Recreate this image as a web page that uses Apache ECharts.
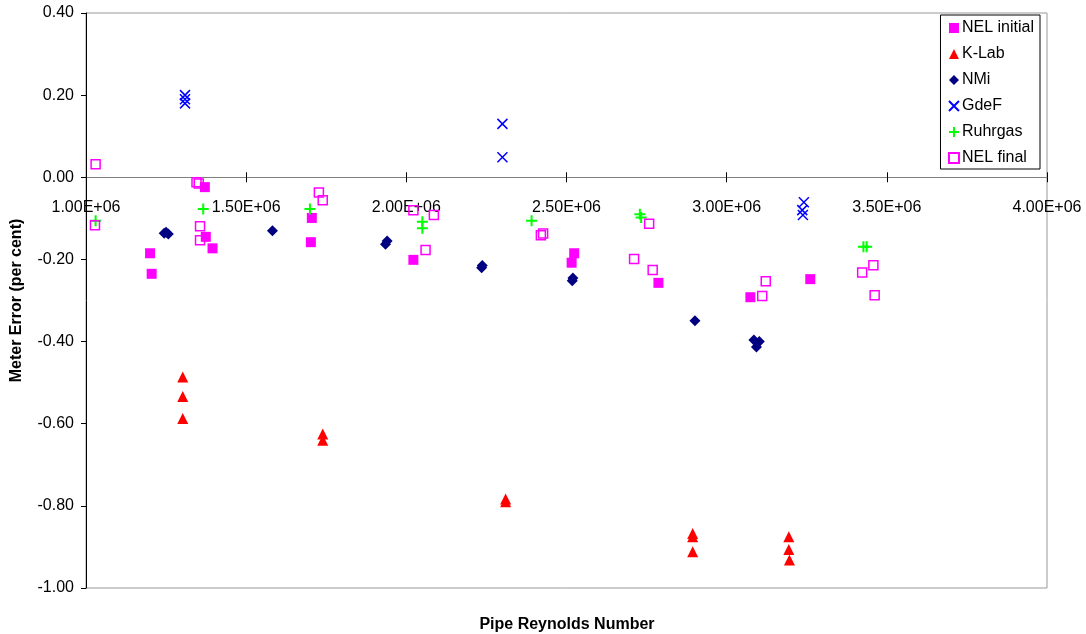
<!DOCTYPE html>
<html>
<head>
<meta charset="utf-8">
<script src="https://cdn.jsdelivr.net/npm/echarts@6/dist/echarts.min.js"></script>
<style>
  html, body { margin: 0; padding: 0; background: #fff; }
  #chart { width: 1086px; height: 634px; }
</style>
</head>
<body>
<div id="chart"></div>
<script>
// values
var nelInitialX = [1.200e6, 1.205e6, 1.371e6, 1.374e6, 1.395e6, 1.705e6, 1.702e6, 2.022e6, 2.524e6, 2.516e6, 2.787e6, 3.074e6, 3.261e6];
var nelInitialY = [-0.185, -0.235, -0.024, -0.145, -0.173, -0.099, -0.158, -0.201, -0.185, -0.208, -0.257, -0.292, -0.248];

var kLabX = [1.302e6, 1.302e6, 1.302e6, 1.739e6, 1.739e6, 2.310e6, 2.310e6, 2.894e6, 2.894e6, 2.894e6, 3.194e6, 3.194e6, 3.196e6];
var kLabY = [-0.486, -0.534, -0.587, -0.625, -0.640, -0.783, -0.790, -0.867, -0.875, -0.912, -0.875, -0.906, -0.932];

var nmiX = [1.244e6, 1.257e6, 1.250e6, 1.582e6, 1.935e6, 1.940e6, 2.237e6, 2.235e6, 2.518e6, 2.520e6, 2.901e6, 3.085e6, 3.102e6, 3.093e6];
var nmiY = [-0.136, -0.138, -0.134, -0.130, -0.163, -0.155, -0.215, -0.220, -0.252, -0.245, -0.349, -0.396, -0.400, -0.413];

var gdefX = [1.309e6, 1.309e6, 1.309e6, 2.300e6, 2.300e6, 3.241e6, 3.236e6, 3.238e6];
var gdefY = [0.200, 0.190, 0.180, 0.130, 0.049, -0.061, -0.080, -0.092];

var ruhrgasX = [1.030e6, 1.366e6, 1.699e6, 2.050e6, 2.050e6, 2.391e6, 2.729e6, 2.733e6, 3.427e6, 3.437e6];
var ruhrgasY = [-0.106, -0.077, -0.077, -0.108, -0.124, -0.106, -0.090, -0.098, -0.169, -0.169];

var nelFinalX = [1.030e6, 1.028e6, 1.345e6, 1.352e6, 1.356e6, 1.356e6, 1.727e6, 1.739e6, 2.022e6, 2.086e6, 2.060e6,
  2.427e6, 2.420e6, 2.758e6, 2.711e6, 2.769e6, 3.111e6, 3.122e6, 3.423e6, 3.458e6, 3.462e6];
var nelFinalY = [0.032, -0.117, -0.012, -0.015, -0.119, -0.153, -0.037, -0.056, -0.080, -0.092, -0.177,
  -0.137, -0.141, -0.113, -0.199, -0.226, -0.289, -0.253, -0.232, -0.214, -0.287];

var yMin = -1, yMax = 0.4;

function zip(xs, ys) {
  return xs.map(function (x, i) { return [x, ys[i]]; });
}

function sciLabel(v) {
  var e = Math.floor(Math.log10(v) + 1e-9);
  var m = v / Math.pow(10, e);
  return m.toFixed(2) + 'E+' + String(e).padStart(2, '0');
}

var FONT = 'Liberation Sans, Arial, sans-serif';
var crossPath = 'path://M0,0L10,10M10,0L0,10';
var plusPath = 'path://M5,0L5,10M0,5L10,5';

var W = 1086, H = 634;
var gridTop = 13, gridBottom = 46;
// the x axis sits on the zero line; shift it up from the bottom edge
var plotH = H - gridTop - gridBottom;
var zeroOffset = -plotH * (0 - yMin) / (yMax - yMin);

var chart = echarts.init(document.getElementById('chart'));

var xAxisBase = {
  type: 'value',
  min: 1000000, max: 4000000, interval: 500000,
  position: 'bottom',
  offset: zeroOffset,
  splitLine: { show: false }
};

var option = {
  animation: false,
  backgroundColor: '#fff',
  textStyle: { fontFamily: FONT },
  grid: {
    left: 86, right: 39, top: gridTop, bottom: gridBottom,
    outerBoundsMode: 'none',
    containLabel: false,
    show: true, borderColor: '#999', borderWidth: 1, backgroundColor: '#fff'
  },
  legend: {
    orient: 'vertical',
    right: 46, top: 15,
    padding: [5, 6, 3, 6],
    itemGap: 10,
    itemWidth: 10, itemHeight: 10,
    borderColor: '#000', borderWidth: 1,
    backgroundColor: '#fff',
    textStyle: { fontSize: 16, color: '#000', fontFamily: FONT, padding: [0, 0, 0, -2] },
    data: ['NEL initial', 'K-Lab', 'NMi', 'GdeF', 'Ruhrgas', 'NEL final']
  },
  xAxis: [
    Object.assign({}, xAxisBase, {
      axisLine: { onZero: false, lineStyle: { color: '#808080', width: 1 } },
      axisTick: { show: true, length: 5, inside: true, lineStyle: { color: '#000' } },
      axisLabel: {
        formatter: sciLabel, fontSize: 16, color: '#000', margin: 22,
        showMinLabel: true, showMaxLabel: true
      }
    }),
    Object.assign({}, xAxisBase, {
      axisLine: { show: false, onZero: false },
      axisTick: { show: true, length: 5, inside: false, lineStyle: { color: '#000' } },
      axisLabel: { show: false }
    })
  ],
  yAxis: {
    type: 'value',
    min: yMin, max: yMax, interval: 0.2,
    name: 'Meter Error (per cent)',
    nameLocation: 'middle', nameGap: 61, nameRotate: 90,
    nameTextStyle: { fontSize: 16, fontWeight: 'bold', color: '#000', fontFamily: FONT },
    axisLine: { show: true, onZero: false, lineStyle: { color: '#000', width: 1 } },
    axisTick: { show: true, length: 5, lineStyle: { color: '#000' } },
    axisLabel: {
      formatter: function (v) { return v.toFixed(2); },
      fontSize: 16, color: '#000', margin: 12
    },
    splitLine: { show: false }
  },
  graphic: [{
    type: 'text', x: 567, y: 625,
    style: {
      text: 'Pipe Reynolds Number', font: 'bold 16px ' + FONT, fill: '#000',
      align: 'center', verticalAlign: 'middle'
    }
  }],
  series: [
    {
      name: 'NEL initial', type: 'scatter', symbol: 'rect', symbolSize: 10,
      itemStyle: { color: '#FF00FF', opacity: 1 }, data: zip(nelInitialX, nelInitialY)
    },
    {
      name: 'K-Lab', type: 'scatter', symbol: 'triangle', symbolSize: 11,
      itemStyle: { color: '#FF0000', opacity: 1 }, data: zip(kLabX, kLabY)
    },
    {
      name: 'NMi', type: 'scatter', symbol: 'diamond', symbolSize: 11,
      itemStyle: { color: '#000080', opacity: 1 }, data: zip(nmiX, nmiY)
    },
    {
      name: 'GdeF', type: 'scatter', symbol: crossPath, symbolSize: 10,
      itemStyle: { color: 'none', borderColor: '#0000FF', borderWidth: 1.5, opacity: 1 },
      data: zip(gdefX, gdefY)
    },
    {
      name: 'Ruhrgas', type: 'scatter', symbol: plusPath, symbolSize: 11,
      itemStyle: { color: 'none', borderColor: '#00FF00', borderWidth: 2, opacity: 1 },
      data: zip(ruhrgasX, ruhrgasY)
    },
    {
      name: 'NEL final', type: 'scatter', symbol: 'rect', symbolSize: 9,
      itemStyle: { color: 'rgba(255,255,255,0)', borderColor: '#FF00FF', borderWidth: 1.5, opacity: 1 },
      data: zip(nelFinalX, nelFinalY)
    }
  ]
};

chart.setOption(option);
</script>
</body>
</html>
